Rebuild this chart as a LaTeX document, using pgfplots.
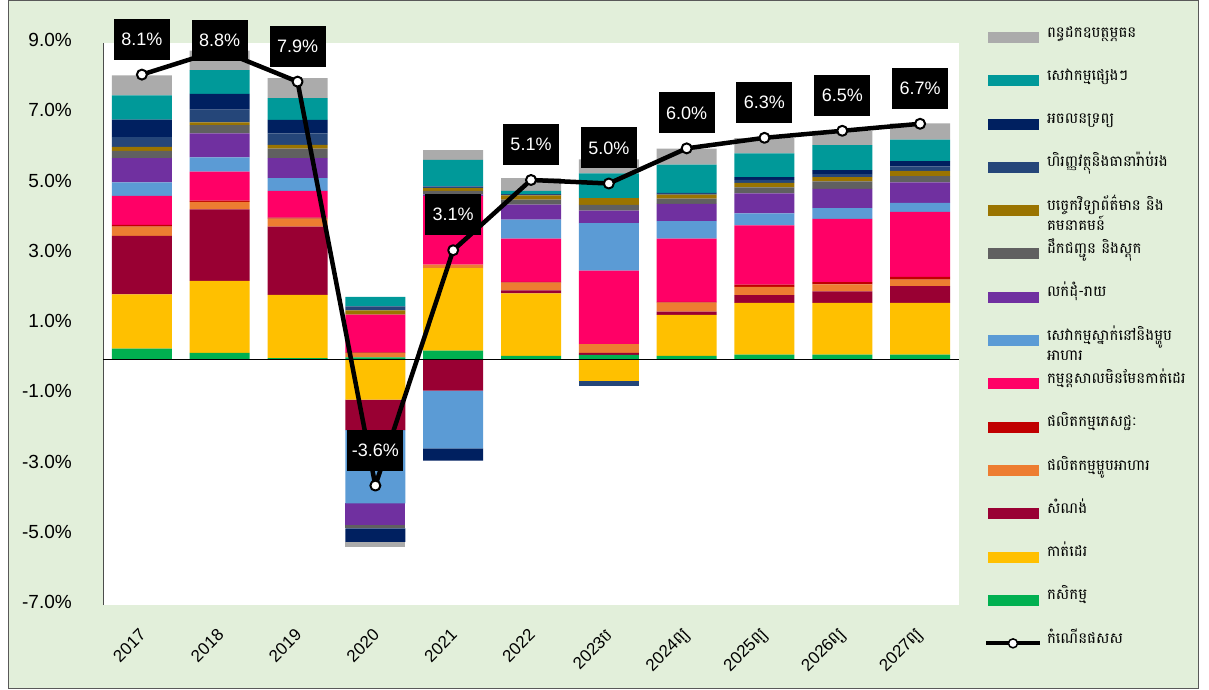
\documentclass[border=0pt]{standalone}
\usepackage{fontspec}
\setmainfont{Liberation Sans}
\newfontfamily\kh[Script=Khmer]{Battambang}
\usepackage{pgfplots}
\usepackage{pgfplotstable}
\pgfplotsset{compat=1.18}

\definecolor{cagri}{HTML}{00B050}
\definecolor{cgarm}{HTML}{FFC000}
\definecolor{ccons}{HTML}{990033}
\definecolor{cfood}{HTML}{ED7D31}
\definecolor{cbev}{HTML}{C00000}
\definecolor{cnong}{HTML}{FF0066}
\definecolor{caccom}{HTML}{5B9BD5}
\definecolor{ctrade}{HTML}{7030A0}
\definecolor{ctrans}{HTML}{606060}
\definecolor{cict}{HTML}{9A7400}
\definecolor{cfin}{HTML}{254679}
\definecolor{creal}{HTML}{002060}
\definecolor{coth}{HTML}{009999}
\definecolor{ctax}{HTML}{ABABAB}
\definecolor{bg}{HTML}{E2EFDA}

% positive contributions (percentage points)
\pgfplotstableread{
x agri garm cons food bev nong accom trade trans ict fin real oth tax
0 0.30 1.54 1.67 0.26 0.05 0.83 0.38 0.69 0.21 0.11 0.28 0.50 0.69 0.57
1 0.18 2.05 2.03 0.22 0.03 0.83 0.40 0.69 0.23 0.08 0.36 0.45 0.68 0.55
2 0.03 1.80 1.94 0.23 0.03 0.76 0.36 0.57 0.27 0.11 0.33 0.38 0.62 0.57
3 0.05 0 0 0.12 0.02 1.08 0 0 0 0.12 0.11 0 0.27 0
4 0.24 2.35 0 0.10 0 1.95 0 0.05 0.10 0.08 0.05 0 0.75 0.28
5 0.09 1.78 0.09 0.22 0.02 1.23 0.54 0.43 0.14 0.12 0.04 0 0.09 0.36
6 0.12 0 0.06 0.25 0 2.09 1.35 0.36 0.16 0.19 0 0 0.71 0.40
7 0.09 1.17 0.09 0.26 0.02 1.80 0.50 0.49 0.15 0.11 0.05 0 0.81 0.45
8 0.13 1.47 0.22 0.24 0.06 1.69 0.34 0.57 0.17 0.13 0.08 0.08 0.68 0.43
9 0.13 1.47 0.33 0.20 0.06 1.80 0.31 0.55 0.21 0.12 0.09 0.11 0.71 0.41
10 0.13 1.47 0.48 0.18 0.08 1.85 0.26 0.58 0.18 0.15 0.13 0.15 0.61 0.46
}\pos

% negative contributions
\pgfplotstableread{
x agri garm cons food bev nong accom trade trans ict fin real oth tax
3 0 -1.15 -0.87 0 0 0 -2.09 -0.62 -0.09 0 0 -0.38 0 -0.14
4 0 0 -0.90 0 0 0 -1.64 0 0 0 0 -0.35 0 0
6 0 -0.62 0 0 0 0 0 0 0 0 -0.15 0 0 0
}\neg

% GDP growth
\pgfplotstableread{
x gdp off
0 8.1 0
1 8.8 -26
2 7.9 0
3 -3.6 0
4 3.1 0
5 5.1 0
6 5.0 0
7 6.0 0
8 6.3 0
9 6.5 0
10 6.7 0
}\gdp

\pgfplotsset{
  common/.style={width=856pt, height=562pt, scale only axis,
    xmin=-0.5, xmax=10.5, ymin=-7, ymax=9,
    at={(103pt,84pt)}, anchor=south west},
}
\newcommand{\legbar}[2]{\addlegendimage{legend image code/.code={\fill[#1] (0pt,-5pt) rectangle (50pt,5pt);}}\addlegendentry{#2}}

\begin{document}
\begin{tikzpicture}
\path (0pt,0pt) rectangle (1209pt,689pt);
\draw[fill=bg, draw=black!65, line width=1pt] (8pt,0.5pt) rectangle (1198pt,688.5pt);

\begin{axis}[common,
  ybar stacked, bar width=60pt,
  axis background/.style={fill=white},
  axis lines*=left,
  x axis line style={draw=none},
  y axis line style={draw=black!70, line width=1pt},
  major tick length=0pt,
  ytick={-7,-5,-3,-1,1,3,5,7,9},
  yticklabels={-7.0\%,-5.0\%,-3.0\%,-1.0\%,1.0\%,3.0\%,5.0\%,7.0\%,9.0\%},
  yticklabel style={font=\fontsize{19}{19}\selectfont, anchor=east, inner sep=0pt, xshift=-31pt, yshift=3pt},
  xtick={0,...,10},
  xticklabels={2017,2018,2019,2020,2021,2022,2023{\kh ប},2024{\kh ព្យ},2025{\kh ព្យ},2026{\kh ព្យ},2027{\kh ព្យ}},
  xticklabel style={font=\fontsize{17}{17}\selectfont, yshift=-27pt, xshift=1pt, rotate=45, anchor=east, inner sep=0pt},
  legend style={at={(1.0292,1.0489)}, anchor=north west, draw=none, fill=none,
    inner sep=0pt, outer sep=0pt, column sep=5pt, row sep=0pt,
    font=\kh\fontsize{15}{20}\selectfont,
    nodes={inner sep=0pt, text height=21.5pt, text depth=21.8pt}},
  legend cell align=left,
]
\legbar{ctax}{ពន្ធដកឧបត្ថម្ភធន}
\legbar{coth}{សេវាកម្មផ្សេងៗ}
\legbar{creal}{អចលនទ្រព្យ}
\legbar{cfin}{ហិរញ្ញវត្ថុនិងធានារ៉ាប់រង}
\legbar{cict}{\parbox[t]{150pt}{\raggedright បច្ចេកវិទ្យាព័ត៌មាន និង\\គមនាគមន៍}}
\legbar{ctrans}{ដឹកជញ្ជូន និងស្តុក}
\legbar{ctrade}{លក់ដុំ-រាយ}
\legbar{caccom}{\parbox[t]{150pt}{\raggedright សេវាកម្មស្នាក់នៅនិងម្ហូប\\អាហារ}}
\legbar{cnong}{កម្មន្តសាលមិនមែនកាត់ដេរ}
\legbar{cbev}{ផលិតកម្មភេសជ្ជៈ}
\legbar{cfood}{ផលិតកម្មម្ហូបអាហារ}
\legbar{ccons}{សំណង់}
\legbar{cgarm}{កាត់ដេរ}
\legbar{cagri}{កសិកម្ម}
\addlegendimage{legend image code/.code={\draw[black, line width=4pt] (-2pt,0pt) -- (52pt,0pt); \draw[black, line width=1.5pt, fill=white] (25pt,0pt) circle (4.5pt);}}
\addlegendentry{កំណើនផសស}

\addplot[forget plot, fill=cagri, draw=none] table[x=x, y=agri] {\pos};
\addplot[forget plot, fill=cgarm, draw=none] table[x=x, y=garm] {\pos};
\addplot[forget plot, fill=ccons, draw=none] table[x=x, y=cons] {\pos};
\addplot[forget plot, fill=cfood, draw=none] table[x=x, y=food] {\pos};
\addplot[forget plot, fill=cbev, draw=none] table[x=x, y=bev] {\pos};
\addplot[forget plot, fill=cnong, draw=none] table[x=x, y=nong] {\pos};
\addplot[forget plot, fill=caccom, draw=none] table[x=x, y=accom] {\pos};
\addplot[forget plot, fill=ctrade, draw=none] table[x=x, y=trade] {\pos};
\addplot[forget plot, fill=ctrans, draw=none] table[x=x, y=trans] {\pos};
\addplot[forget plot, fill=cict, draw=none] table[x=x, y=ict] {\pos};
\addplot[forget plot, fill=cfin, draw=none] table[x=x, y=fin] {\pos};
\addplot[forget plot, fill=creal, draw=none] table[x=x, y=real] {\pos};
\addplot[forget plot, fill=coth, draw=none] table[x=x, y=oth] {\pos};
\addplot[forget plot, fill=ctax, draw=none] table[x=x, y=tax] {\pos};
\end{axis}

\begin{axis}[common, ybar stacked, bar width=60pt, hide axis]
\addplot[fill=cagri, draw=none] table[x=x, y=agri] {\neg};
\addplot[fill=cgarm, draw=none] table[x=x, y=garm] {\neg};
\addplot[fill=ccons, draw=none] table[x=x, y=cons] {\neg};
\addplot[fill=cfood, draw=none] table[x=x, y=food] {\neg};
\addplot[fill=cbev, draw=none] table[x=x, y=bev] {\neg};
\addplot[fill=cnong, draw=none] table[x=x, y=nong] {\neg};
\addplot[fill=caccom, draw=none] table[x=x, y=accom] {\neg};
\addplot[fill=ctrade, draw=none] table[x=x, y=trade] {\neg};
\addplot[fill=ctrans, draw=none] table[x=x, y=trans] {\neg};
\addplot[fill=cict, draw=none] table[x=x, y=ict] {\neg};
\addplot[fill=cfin, draw=none] table[x=x, y=fin] {\neg};
\addplot[fill=creal, draw=none] table[x=x, y=real] {\neg};
\addplot[fill=coth, draw=none] table[x=x, y=oth] {\neg};
\addplot[fill=ctax, draw=none] table[x=x, y=tax] {\neg};
\end{axis}

\begin{axis}[common, hide axis, clip=false]
\draw[black, line width=1pt] (axis cs:-0.5,0) -- (axis cs:10.5,0);
\addplot[black, line width=4.5pt, line join=round, mark=*, mark size=5pt,
  mark options={fill=white, draw=black, line width=2pt},
  visualization depends on={\thisrow{off} \as \off},
  nodes near coords={\pgfmathprintnumber[fixed, fixed zerofill, precision=1, assume math mode=true]{\pgfplotspointmeta}\%},
  every node near coord/.append style={anchor=south, fill=black, text=white,
    font=\fontsize{18}{18}\selectfont, minimum width=56pt, minimum height=41pt,
    inner sep=0pt, yshift=14pt, yshift=\off}]
  table[x=x, y=gdp] {\gdp};
\end{axis}
\end{tikzpicture}
\end{document}
